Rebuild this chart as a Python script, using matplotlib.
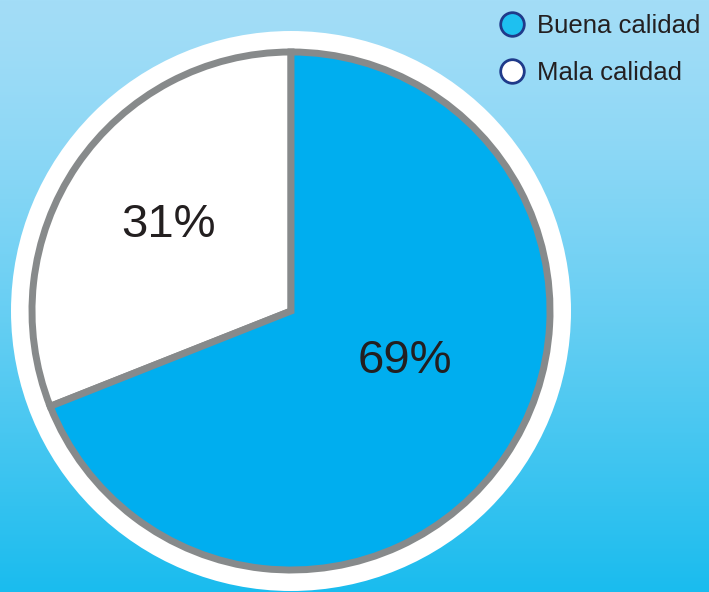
import numpy as np
import matplotlib.pyplot as plt
from matplotlib.patches import Circle
from matplotlib.lines import Line2D

plt.rcParams['font.family'] = ['Liberation Sans', 'DejaVu Sans']

# datos
categorias = ['Mala calidad', 'Buena calidad']
valores = [31, 69]
colores = ['#ffffff', '#00aeef']
etiquetas = ['31%', '69%']

W, H = 709, 592
fig = plt.figure(figsize=(W / 100, H / 100), dpi=100)
ax = fig.add_axes([0, 0, 1, 1])

# fondo degradado (arriba claro, abajo más intenso)
top = np.array([163, 221, 247]) / 255
bottom = np.array([26, 188, 238]) / 255
t = np.linspace(0, 1, 256)[:, None] ** 1.3
grad = top + (bottom - top) * t
ax.imshow(grad[:, None, :].repeat(2, axis=1), extent=[0, W, 0, H],
          aspect='auto', zorder=0, origin='upper')

cx, cy, r = 291, 281, 259

# anillo blanco exterior
ax.add_patch(Circle((cx, cy), 280, facecolor='white', edgecolor='none', zorder=1))

wedges, _ = ax.pie(valores, colors=colores, startangle=90, counterclock=True,
                   center=(cx, cy), radius=r, frame=True,
                   wedgeprops=dict(edgecolor='#878a8b', linewidth=5, zorder=2))
for w in wedges:
    w.set_zorder(2)

# posiciones de las etiquetas (px)
pos_etiquetas = [(168, H - 225), (405, H - 361)]
for txt, (x, y) in zip(etiquetas, pos_etiquetas):
    ax.text(x, y, txt, fontsize=34, color='#231f20', ha='center', va='center', zorder=3)

# leyenda
handles = [
    Line2D([], [], marker='o', linestyle='none', markersize=17,
           markerfacecolor='#1ec0f0', markeredgecolor='#1f3a8a', markeredgewidth=2),
    Line2D([], [], marker='o', linestyle='none', markersize=17,
           markerfacecolor='#ffffff', markeredgecolor='#1f3a8a', markeredgewidth=2),
]
ax.legend(handles, ['Buena calidad', 'Mala calidad'], loc='upper left',
          bbox_to_anchor=(486 / W, 1 - 4 / H), frameon=False,
          fontsize=18.5, labelcolor='#231f20', handletextpad=0.37,
          labelspacing=0.9, handlelength=1.2, borderaxespad=0)

ax.set_xlim(0, W)
ax.set_ylim(0, H)
ax.set_aspect('auto')
ax.axis('off')

fig.savefig('out.png', dpi=100)
